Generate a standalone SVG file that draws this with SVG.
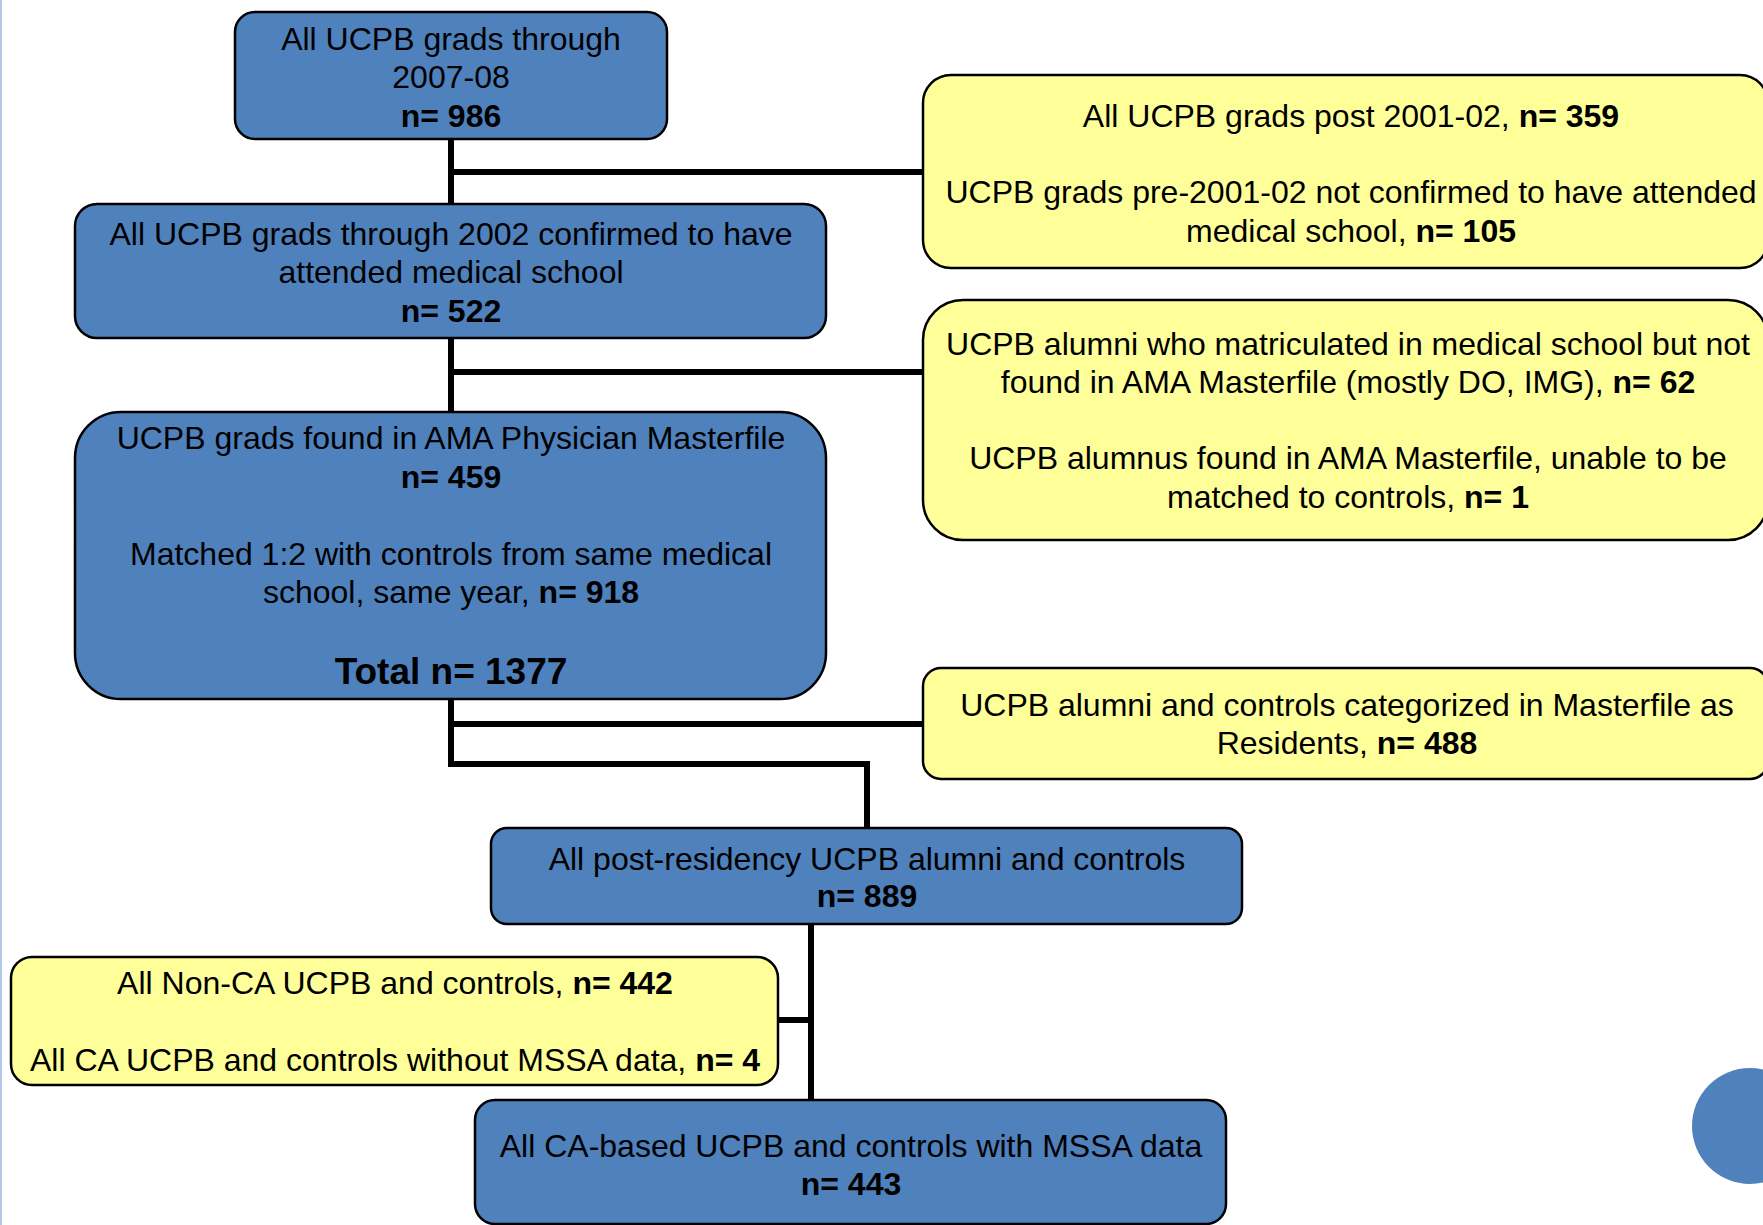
<svg xmlns="http://www.w3.org/2000/svg" width="1763" height="1225" viewBox="0 0 1763 1225">
<style>
.blue{fill:#4f81bd;stroke:#000;stroke-width:2.5}
.yel{fill:#ffff99;stroke:#000;stroke-width:2.5}
text{font-family:"Liberation Sans",Arial,sans-serif;font-size:32px;fill:#000;text-anchor:middle}
.b{font-weight:bold}
.conn{fill:none;stroke:#000;stroke-width:6;stroke-linejoin:miter}
</style>
<rect x="0" y="0" width="1763" height="1225" fill="#fff"/>
<line x1="1" y1="0" x2="1" y2="1225" stroke="#b4c7e7" stroke-width="2"/>
<circle cx="1750" cy="1126" r="58" fill="#4f81bd"/>
<g id="connectors">
<path class="conn" d="M451 139 V205 M451 172 H923"/>
<path class="conn" d="M451 338 V413 M451 372 H923"/>
<path class="conn" d="M451 699 V764 H867 V829 M451 724 H923"/>
<path class="conn" d="M811 924 V1101 M779 1020 H811"/>
</g>
<g id="n1">
<rect class="blue" x="235" y="12" width="432" height="127" rx="20"/>
<text x="451" y="50">All UCPB grads through</text>
<text x="451" y="88">2007-08</text>
<text x="451" y="127" class="b">n= 986</text>
</g>
<g id="n2">
<rect class="blue" x="75" y="204" width="751" height="134" rx="22"/>
<text x="451" y="245">All UCPB grads through 2002 confirmed to have</text>
<text x="451" y="283">attended medical school</text>
<text x="451" y="322" class="b">n= 522</text>
</g>
<g id="n3">
<rect class="blue" x="75" y="412" width="751" height="287" rx="46"/>
<text x="451" y="449">UCPB grads found in AMA Physician Masterfile</text>
<text x="451" y="488" class="b">n= 459</text>
<text x="451" y="565">Matched 1:2 with controls from same medical</text>
<text x="451" y="603">school, same year, <tspan class="b">n= 918</tspan></text>
<text x="451" y="684" class="b" style="font-size:37px">Total n= 1377</text>
</g>
<g id="n4">
<rect class="blue" x="491" y="828" width="751" height="96" rx="16"/>
<text x="867" y="870">All post-residency UCPB alumni and controls</text>
<text x="867" y="907" class="b">n= 889</text>
</g>
<g id="n5">
<rect class="blue" x="475" y="1100" width="751" height="124" rx="20"/>
<text x="851" y="1157">All CA-based UCPB and controls with MSSA data</text>
<text x="851" y="1195" class="b">n= 443</text>
</g>
<g id="y1">
<rect class="yel" x="923" y="75" width="845" height="193" rx="28"/>
<text x="1351" y="127">All UCPB grads post 2001-02, <tspan class="b">n= 359</tspan></text>
<text x="1351" y="203">UCPB grads pre-2001-02 not confirmed to have attended</text>
<text x="1351" y="242">medical school, <tspan class="b">n= 105</tspan></text>
</g>
<g id="y2">
<rect class="yel" x="923" y="300" width="845" height="240" rx="40"/>
<text x="1348" y="355">UCPB alumni who matriculated in medical school but not</text>
<text x="1348" y="393">found in AMA Masterfile (mostly DO, IMG), <tspan class="b">n= 62</tspan></text>
<text x="1348" y="469">UCPB alumnus found in AMA Masterfile, unable to be</text>
<text x="1348" y="508">matched to controls, <tspan class="b">n= 1</tspan></text>
</g>
<g id="y3">
<rect class="yel" x="923" y="668" width="845" height="111" rx="18"/>
<text x="1347" y="716">UCPB alumni and controls categorized in Masterfile as</text>
<text x="1347" y="754">Residents, <tspan class="b">n= 488</tspan></text>
</g>
<g id="y4">
<rect class="yel" x="11" y="957" width="767" height="128" rx="21"/>
<text x="395" y="994">All Non-CA UCPB and controls, <tspan class="b">n= 442</tspan></text>
<text x="395" y="1071">All CA UCPB and controls without MSSA data, <tspan class="b">n= 4</tspan></text>
</g>
</svg>
